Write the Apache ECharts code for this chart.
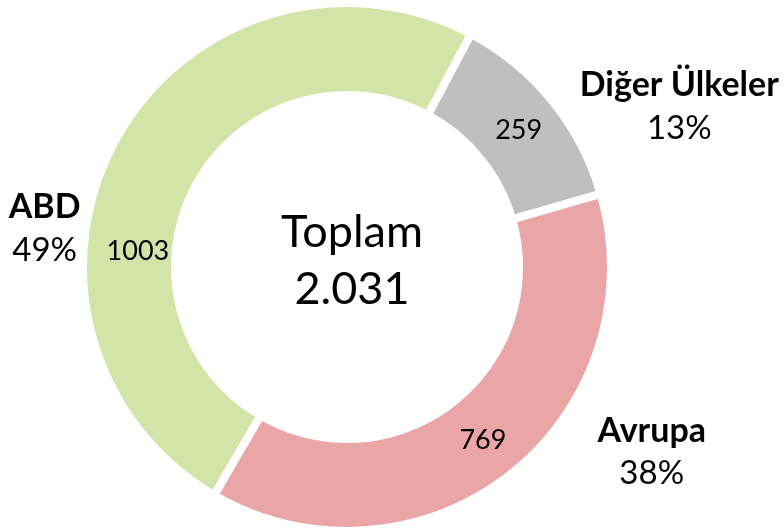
<!DOCTYPE html>
<html>
<head>
<meta charset="utf-8">
<script src="https://cdn.jsdelivr.net/npm/echarts@6/dist/echarts.min.js"></script>
<style>
  html, body { margin: 0; padding: 0; background: #fff; }
  #chart { width: 784px; height: 529px; }
</style>
</head>
<body>
<div id="chart"></div>
<script>
// dilimler (saat yönünde, üstten başlayarak)
var categories = ["Diğer Ülkeler", "Avrupa", "ABD"];
var values = [259, 769, 1003];
var percents = [13, 38, 49];
var centerTitle = "Toplam";

var colors = ["#BFBFBF", "#EAA6A6", "#D2E4A8"];
var fontFam = "Lato, 'Open Sans', sans-serif";

var total = values.reduce(function (a, b) { return a + b; }, 0);
// 2031 -> "2.031"
var totalText = String(total).replace(/\B(?=(\d{3})+(?!\d))/g, ".");

// etiket kaydırmaları (Excel'deki yerleşime yaklaştırmak için)
var outerOffsets = [[15, 12], [77, -31], [-22, 95]];
var innerOffsets = [[0, 3], [0, -1], [-16, 92]];

var pieCenter = [347, 267];
var pieRadius = [172, 264];

var chart = echarts.init(document.getElementById("chart"));

var option = {
  animation: false,
  color: colors,
  title: {
    text: centerTitle + "\n" + totalText,
    left: 347,
    top: 199,
    textAlign: "center",
    textStyle: {
      fontFamily: fontFam,
      fontWeight: "normal",
      fontSize: 45,
      lineHeight: 57,
      color: "#000"
    }
  },
  series: [
    {
      type: "pie",
      center: pieCenter,
      radius: pieRadius,
      startAngle: 62,
      clockwise: true,
      avoidLabelOverlap: false,
      itemStyle: {
        borderColor: "#fff",
        borderWidth: 8
      },
      label: {
        show: true,
        position: "inside",
        fontFamily: fontFam,
        fontSize: 27,
        color: "#000",
        formatter: "{c}"
      },
      labelLine: { show: false },
      data: categories.map(function (c, i) {
        return {
          name: c,
          value: values[i],
          label: { offset: innerOffsets[i] }
        };
      })
    },
    {
      type: "pie",
      center: pieCenter,
      radius: pieRadius,
      startAngle: 62,
      clockwise: true,
      silent: true,
      avoidLabelOverlap: false,
      itemStyle: { color: "transparent" },
      label: {
        show: true,
        position: "outside",
        color: "#000",
        formatter: function (p) {
          return "{b|" + p.name + "}\n{c|" + percents[p.dataIndex] + "%}";
        },
        rich: {
          b: {
            fontFamily: fontFam,
            fontWeight: "bold",
            fontSize: 34,
            lineHeight: 43,
            align: "center",
            color: "#000"
          },
          c: {
            fontFamily: fontFam,
            fontSize: 33,
            lineHeight: 43,
            align: "center",
            color: "#000"
          }
        }
      },
      labelLine: { show: false, length: 10, length2: 0 },
      data: categories.map(function (c, i) {
        return {
          name: c,
          value: values[i],
          label: { offset: outerOffsets[i] }
        };
      })
    }
  ]
};

chart.setOption(option);
</script>
</body>
</html>
